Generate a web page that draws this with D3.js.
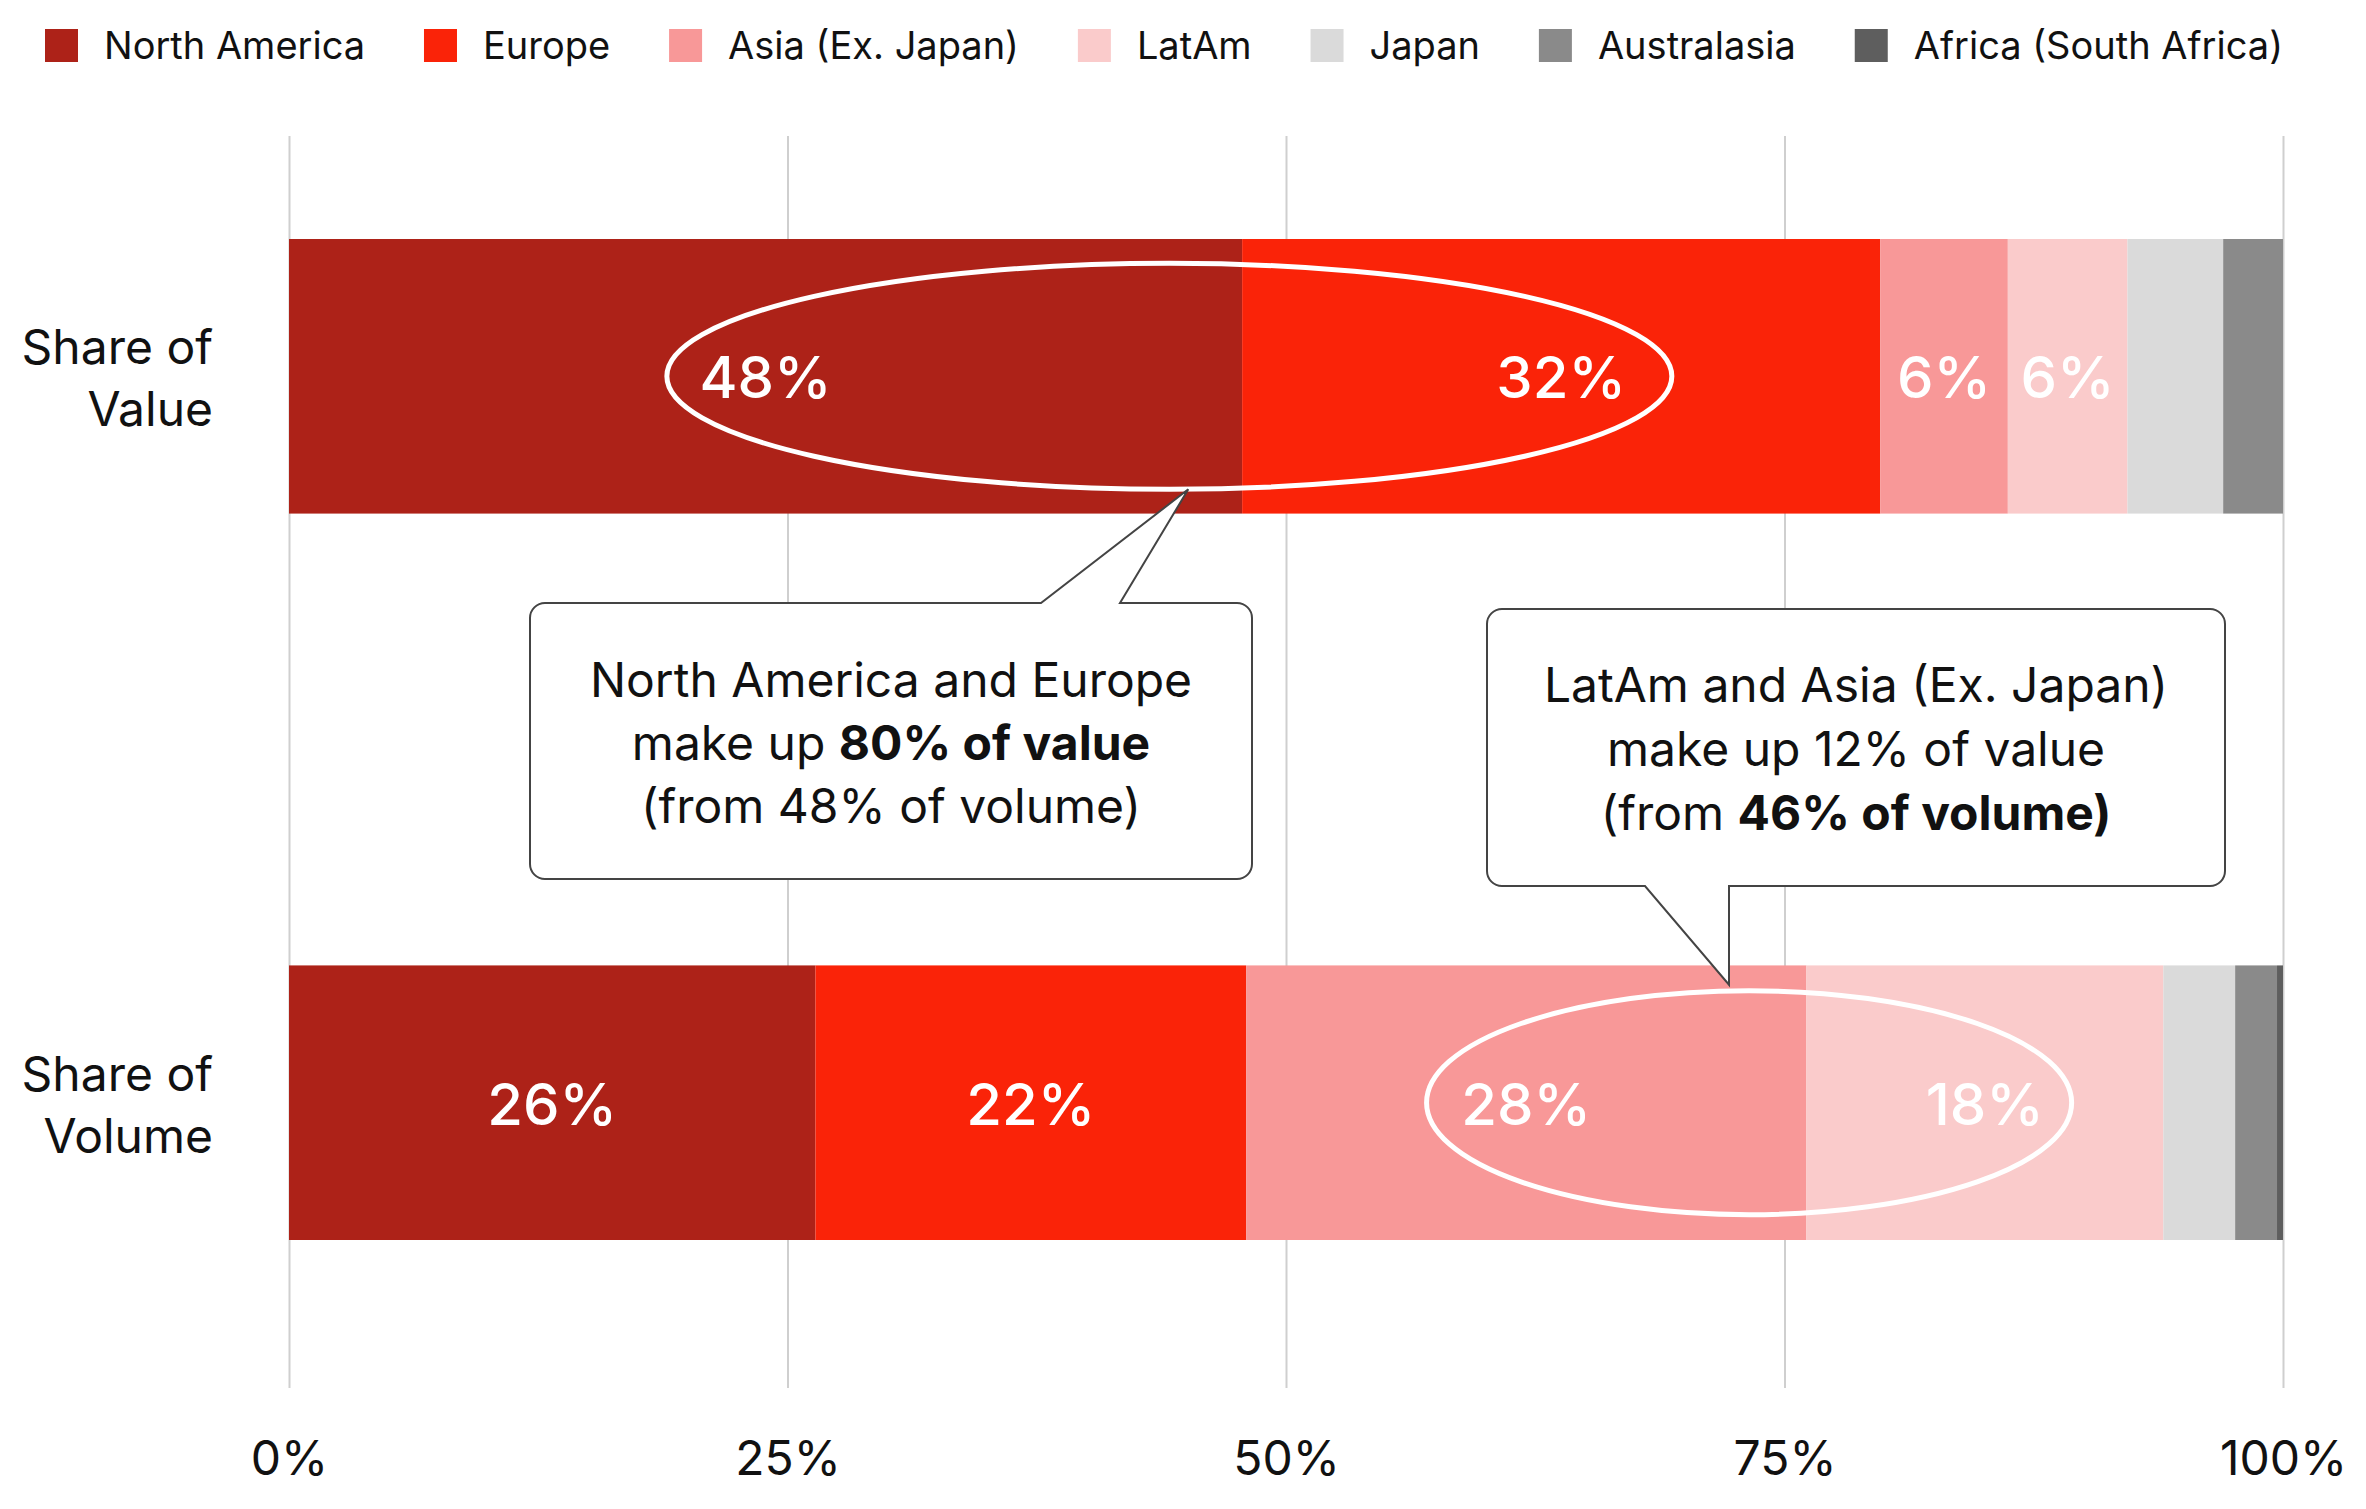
<!DOCTYPE html>
<html>
<head>
<meta charset="utf-8">
<script src="https://cdn.jsdelivr.net/npm/d3@7"></script>
<style>
  html, body { margin: 0; padding: 0; background: #fff; }
  svg { display: block; font-family: Inter, "Noto Sans", sans-serif; }
</style>
</head>
<body>
<svg id="chart" width="2366" height="1509"></svg>
<script>
// ---- Data ----
const categories = ["Share of Value", "Share of Volume"];
const categoryLines = [["Share of", "Value"], ["Share of", "Volume"]];
const regions = ["North America", "Europe", "Asia (Ex. Japan)", "LatAm", "Japan", "Australasia", "Africa (South Africa)"];
const valueShare = [47.8, 32.0, 6.4, 6.0, 4.8, 3.0, 0.0];
const volumeShare = [26.4, 21.6, 28.1, 17.9, 3.6, 2.1, 0.3];
const regionColors = ["#ad2218", "#fa2308", "#f89898", "#facbcb", "#dadada", "#8a8a8a", "#5e5e5e"];
const xTicks = [0, 25, 50, 75, 100];
const callout1 = [["North America and Europe"], ["make up ", "80% of value"], ["(from 48% of volume)"]];
const callout2 = [["LatAm and Asia (Ex. Japan)"], ["make up 12% of value"], ["(from ", "46% of volume)"]];

// ---- Setup ----
const svg = d3.select("#chart");
const x = d3.scaleLinear().domain([0, 100]).range([289, 2283]);
const y = d3.scaleBand().domain(categories).range([239, 1240]).paddingInner(0.622).paddingOuter(0);
const color = d3.scaleOrdinal().domain(regions).range(regionColors);

const seriesByCat = { "Share of Value": valueShare, "Share of Volume": volumeShare };
const rows = categories.map(c => {
  const row = { category: c };
  regions.forEach((r, i) => row[r] = seriesByCat[c][i]);
  return row;
});
const stacked = d3.stack().keys(regions)(rows);

// ---- Grid + axis ----
const gridTop = 136, gridBottom = 1388;
const axis = d3.axisBottom(x).tickValues(xTicks).tickFormat(d => d + "%")
  .tickSize(-(gridBottom - gridTop)).tickPadding(53);
const ax = svg.append("g").attr("transform", `translate(0,${gridBottom})`).call(axis);
ax.select(".domain").remove();
ax.selectAll(".tick line").attr("stroke", "#cfcfcf").attr("stroke-width", 2);
ax.selectAll(".tick text").attr("fill", "#111").attr("font-size", 48).attr("font-family", "Inter");

// ---- Bars ----
const layer = svg.append("g").selectAll("g").data(stacked).join("g")
  .attr("fill", d => color(d.key));
layer.selectAll("rect").data(d => d.map(p => ({ key: d.key, p }))).join("rect")
  .attr("x", d => x(d.p[0]))
  .attr("width", d => Math.max(0, x(d.p[1]) - x(d.p[0])))
  .attr("y", d => y(d.p.data.category))
  .attr("height", y.bandwidth());

// ---- Ellipses (annotations) ----
const ellipses = [
  { cat: "Share of Value", x0: 18.95, x1: 69.35, ry: 113 },
  { cat: "Share of Volume", x0: 57.05, x1: 89.4, ry: 112 }
];
svg.append("g").selectAll("ellipse").data(ellipses).join("ellipse")
  .attr("cx", d => (x(d.x0) + x(d.x1)) / 2)
  .attr("cy", d => y(d.cat) + y.bandwidth() / 2)
  .attr("rx", d => (x(d.x1) - x(d.x0)) / 2)
  .attr("ry", d => d.ry)
  .attr("fill", "none").attr("stroke", "#fff").attr("stroke-width", 5);

// ---- Bar labels ----
const labels = [];
stacked.forEach(s => s.forEach(p => {
  const v = p[1] - p[0];
  if (v >= 5) labels.push({ v, cx: (x(p[0]) + x(p[1])) / 2, cat: p.data.category });
}));
svg.append("g").selectAll("text").data(labels).join("text")
  .attr("x", d => d.cx)
  .attr("y", d => y(d.cat) + y.bandwidth() / 2 + 22)
  .attr("text-anchor", "middle")
  .attr("fill", "#fff").attr("font-size", 58).attr("font-weight", 500)
  .text(d => Math.round(d.v) + "%");

// ---- Category labels ----
const catG = svg.append("g");
categories.forEach((c, i) => {
  const cy = y(c) + y.bandwidth() / 2;
  const t = catG.append("text").attr("text-anchor", "end").attr("fill", "#111").attr("font-size", 48);
  categoryLines[i].forEach((ln, j) => {
    t.append("tspan").attr("x", 213).attr("y", cy - 12 + j * 62).text(ln);
  });
});

// ---- Legend ----
const leg = svg.append("g");
const legStart = 45, legEnd = 2283;
const items = regions.map(r => {
  const g = leg.append("g");
  g.append("rect").attr("y", 29).attr("width", 33).attr("height", 33).attr("fill", color(r));
  const t = g.append("text").attr("x", 59).attr("y", 59).attr("font-size", 38).attr("fill", "#111").text(r);
  return { g, w: 59 + t.node().getComputedTextLength() };
});
const totalW = d3.sum(items, d => d.w);
const gap = (legEnd - legStart - totalW) / (items.length - 1);
let lx = legStart;
items.forEach(it => { it.g.attr("transform", `translate(${lx},0)`); lx += it.w + gap; });

// ---- Callout boxes ----
function boxTop(x0, y0, x1, y1, r, p1, p2, tx, ty) {
  return `M${x0 + r},${y0} H${p1} L${tx},${ty} L${p2},${y0} H${x1 - r} A${r},${r} 0 0 1 ${x1},${y0 + r} V${y1 - r} A${r},${r} 0 0 1 ${x1 - r},${y1} H${x0 + r} A${r},${r} 0 0 1 ${x0},${y1 - r} V${y0 + r} A${r},${r} 0 0 1 ${x0 + r},${y0} Z`;
}
function boxBottom(x0, y0, x1, y1, r, p1, p2, tx, ty) {
  return `M${x0 + r},${y0} H${x1 - r} A${r},${r} 0 0 1 ${x1},${y0 + r} V${y1 - r} A${r},${r} 0 0 1 ${x1 - r},${y1} H${p2} L${tx},${ty} L${p1},${y1} H${x0 + r} A${r},${r} 0 0 1 ${x0},${y1 - r} V${y0 + r} A${r},${r} 0 0 1 ${x0 + r},${y0} Z`;
}
const ann = svg.append("g");
const valY = y("Share of Value") + y.bandwidth() / 2;
const volY = y("Share of Volume") + y.bandwidth() / 2;
ann.append("path")
  .attr("d", boxTop(530, 603, 1252, 879, 15, 1041, 1120, x(45.1), valY + 113))
  .attr("fill", "#fff").attr("stroke", "#444").attr("stroke-width", 2);
ann.append("path")
  .attr("d", boxBottom(1487, 609, 2225, 886, 15, 1645, 1729, 1729, volY - 118))
  .attr("fill", "#fff").attr("stroke", "#444").attr("stroke-width", 2);

function writeLines(lines, cx, y0, gap) {
  lines.forEach((parts, j) => {
    const t = ann.append("text").attr("x", cx).attr("y", y0 + j * gap)
      .attr("text-anchor", "middle").attr("font-size", 48).attr("fill", "#111");
    parts.forEach((p, k) => {
      t.append("tspan").attr("font-weight", k === 1 ? 700 : 400).text(p);
    });
  });
}
writeLines(callout1, 891, 697, 63);
writeLines(callout2, 1856, 702, 64);
</script>
</body>
</html>
